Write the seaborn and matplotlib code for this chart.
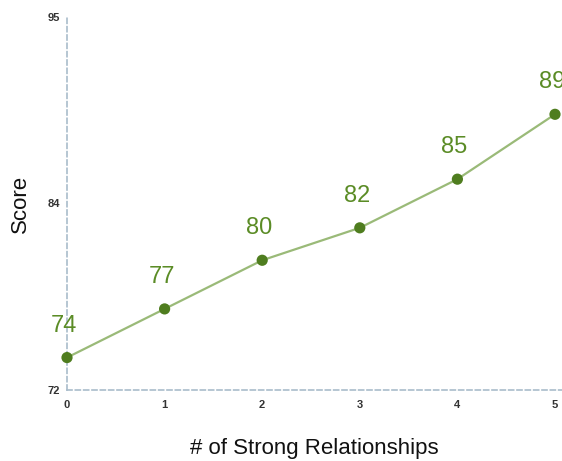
import pandas as pd
import matplotlib
matplotlib.use("Agg")
import matplotlib.pyplot as plt
import seaborn as sns

relationships = [0, 1, 2, 3, 4, 5]
scores = [74, 77, 80, 82, 85, 89]
y_ticks = [72, 83.5, 95]
y_tick_labels = ["72", "84", "95"]

LINE_COLOR = "#9aba78"
POINT_COLOR = "#4f7d1f"
LABEL_COLOR = "#5b8c26"
AXIS_COLOR = "#a9bccb"

sns.set_theme(style="white")
plt.rcParams["font.family"] = ["Liberation Sans", "DejaVu Sans"]

df = pd.DataFrame({"relationships": relationships, "score": scores})

fig = plt.figure(figsize=(5.62, 4.61), dpi=100)
ax = fig.add_axes([67 / 562, 71 / 461, 495 / 562, 373 / 461])

sns.lineplot(data=df, x="relationships", y="score", ax=ax,
             color=LINE_COLOR, linewidth=1.6, zorder=2)
sns.scatterplot(data=df, x="relationships", y="score", ax=ax,
                color=POINT_COLOR, s=65, edgecolor="none", zorder=3,
                clip_on=False)

for x, y in zip(relationships, scores):
    ax.annotate(str(y), (x, y), textcoords="offset pixels", xytext=(-3, 32),
                ha="center", va="center", fontsize=17, color=LABEL_COLOR)

ax.set_xlim(0, 5 * 495 / 488)
ax.set_ylim(72, 95)
ax.set_xticks(relationships)
ax.set_yticks(y_ticks)
ax.set_yticklabels(y_tick_labels)
ax.tick_params(axis="both", length=0, labelsize=8, colors="#333333")
ax.tick_params(axis="x", pad=7)
ax.tick_params(axis="y", pad=5)
for lbl in ax.get_xticklabels() + ax.get_yticklabels():
    lbl.set_fontweight("bold")

for side in ["top", "right"]:
    ax.spines[side].set_visible(False)
for side in ["left", "bottom"]:
    ax.spines[side].set_color(AXIS_COLOR)
    ax.spines[side].set_linestyle((0, (3, 2)))
    ax.spines[side].set_linewidth(1.2)

ax.set_xlabel("# of Strong Relationships", fontsize=16, color="#111111", labelpad=20)
ax.set_ylabel("Score", fontsize=16, color="#111111", labelpad=12)

fig.savefig("out.png", dpi=100)
plt.close(fig)
